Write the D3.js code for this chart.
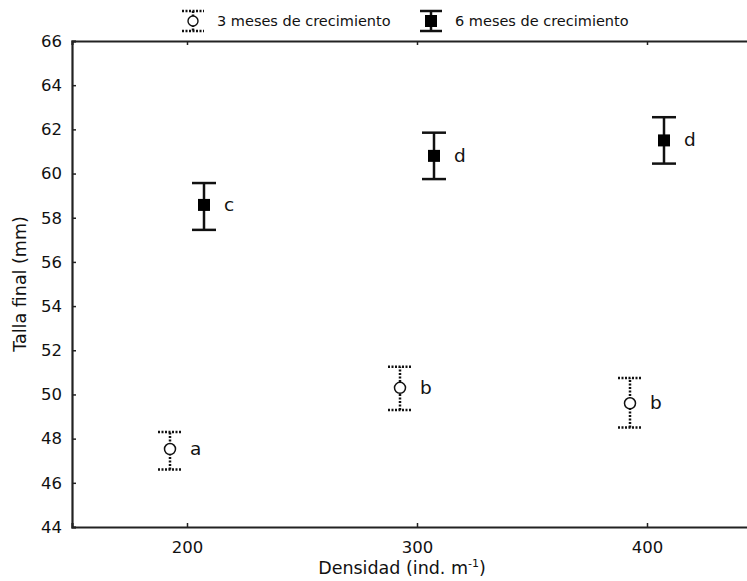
<!DOCTYPE html>
<html>
<head>
<meta charset="utf-8">
<script src="https://cdn.jsdelivr.net/npm/d3@7"></script>
<style>
  body { margin: 0; background: #fff; }
  text { font-family: "DejaVu Sans", Verdana, sans-serif; }
</style>
</head>
<body>
<div id="Area"></div>
<script>
var margin = { top: 41, right: -15, bottom: 54, left: 72 },
  width = 747 - margin.left - margin.right,
  height = 581 - margin.top - margin.bottom;

// data
var densidad = [200, 300, 400];
var mes3 = [47.53, 50.3, 49.6];
var mes3Lo = [46.6, 49.3, 48.5];
var mes3Hi = [48.3, 51.25, 50.75];
var mes3Letra = ["a", "b", "b"];
var mes6 = [58.58, 60.8, 61.5];
var mes6Lo = [57.45, 59.75, 60.45];
var mes6Hi = [59.57, 61.85, 62.55];
var mes6Letra = ["c", "d", "d"];
var yTicks = [44, 46, 48, 50, 52, 54, 56, 58, 60, 62, 64, 66];

var svg = d3.select("#Area").append("svg")
  .attr("width", 747)
  .attr("height", 581);
var g = svg.append("g")
  .attr("transform", "translate(" + margin.left + "," + margin.top + ")");

var x = d3.scaleLinear().domain([150, 450]).range([0, width]);
var y = d3.scaleLinear().domain([44, 66]).range([height, 0]);

// axes, ticks pointing inward
var xb = g.append("g").attr("transform", "translate(0," + height + ")")
  .call(d3.axisBottom(x).tickValues(densidad).tickSize(-4).tickPadding(14));
var xt = g.append("g")
  .call(d3.axisTop(x).tickValues(densidad).tickSize(-4).tickFormat(""));
var yl = g.append("g")
  .call(d3.axisLeft(y).tickValues(yTicks).tickSize(-4).tickPadding(10));
[xb, xt, yl].forEach(function (a) {
  a.select(".domain").attr("stroke", "#222").attr("stroke-width", 2.2);
  a.selectAll(".tick line").attr("stroke", "#222").attr("stroke-width", 1.5);
  a.selectAll("text").attr("font-size", 16.5).attr("fill", "#111");
});

// axis titles
g.append("text")
  .attr("x", 330).attr("y", height + 47)
  .attr("text-anchor", "middle").attr("font-size", 17.5).attr("fill", "#111")
  .html('Densidad (ind. m<tspan dy="-7" font-size="11">-1</tspan><tspan dy="7">)</tspan>');
g.append("text")
  .attr("transform", "translate(-46," + (height / 2) + ")rotate(-90)")
  .attr("text-anchor", "middle").attr("font-size", 17.5).attr("fill", "#111")
  .text("Talla final (mm)");

var off = 17, cap = 12;
function series(vals, lo, hi, letras, dx, dotted) {
  var s = g.append("g");
  var dash = dotted ? "2,1.5" : null;
  densidad.forEach(function (d, i) {
    var cx = x(d) + dx;
    s.append("line").attr("x1", cx).attr("x2", cx)
      .attr("y1", y(lo[i])).attr("y2", y(hi[i]))
      .attr("stroke", "#111").attr("stroke-width", 2.5)
      .attr("stroke-dasharray", dash);
    [lo[i], hi[i]].forEach(function (v) {
      s.append("line").attr("x1", cx - cap).attr("x2", cx + cap)
        .attr("y1", y(v)).attr("y2", y(v))
        .attr("stroke", "#111").attr("stroke-width", 2.5)
        .attr("stroke-dasharray", dash);
    });
    if (dotted) {
      s.append("circle").attr("cx", cx).attr("cy", y(vals[i])).attr("r", 5.5)
        .attr("fill", "#fff").attr("stroke", "#111").attr("stroke-width", 1.5);
    } else {
      s.append("rect").attr("x", cx - 6).attr("y", y(vals[i]) - 6)
        .attr("width", 12).attr("height", 12).attr("fill", "#000");
    }
    s.append("text").attr("x", cx + 20).attr("y", y(vals[i]) + 6)
      .attr("font-size", 18.5).attr("fill", "#111").text(letras[i]);
  });
}
series(mes3, mes3Lo, mes3Hi, mes3Letra, -off, true);
series(mes6, mes6Lo, mes6Hi, mes6Letra, off, false);

// legend
var leg = svg.append("g");
function legItem(lx, text, dotted) {
  var dash = dotted ? "2,1.5" : null;
  leg.append("line").attr("x1", lx).attr("x2", lx).attr("y1", 11).attr("y2", 31)
    .attr("stroke", "#111").attr("stroke-width", 2.5).attr("stroke-dasharray", dash);
  [11, 31].forEach(function (v) {
    leg.append("line").attr("x1", lx - 11).attr("x2", lx + 11).attr("y1", v).attr("y2", v)
      .attr("stroke", "#111").attr("stroke-width", 2.5).attr("stroke-dasharray", dash);
  });
  if (dotted) {
    leg.append("circle").attr("cx", lx).attr("cy", 21).attr("r", 5)
      .attr("fill", "#fff").attr("stroke", "#111").attr("stroke-width", 1.4);
  } else {
    leg.append("rect").attr("x", lx - 6).attr("y", 15).attr("width", 12).attr("height", 12)
      .attr("fill", "#000");
  }
  leg.append("text").attr("x", lx + 24).attr("y", 26)
    .attr("font-size", 14.5).attr("fill", "#111")
    .attr("font-family", "'DejaVu Sans Condensed', 'DejaVu Sans', sans-serif")
    .text(text);
}
legItem(193, "3 meses de crecimiento", true);
legItem(431, "6 meses de crecimiento", false);
</script>
</body>
</html>
